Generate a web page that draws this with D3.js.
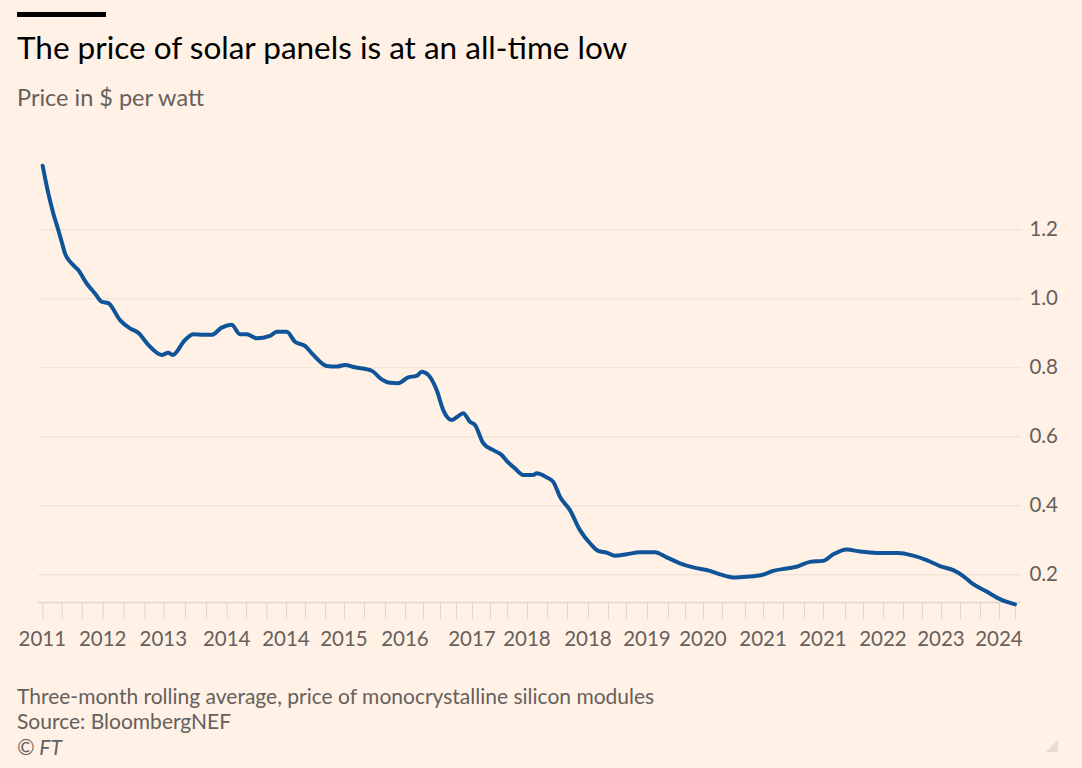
<!DOCTYPE html>
<html>
<head>
<meta charset="utf-8">
<script src="https://cdn.jsdelivr.net/npm/d3@7"></script>
<style>
  body { margin: 0; background: #fff1e5; }
  svg { display: block; font-family: Lato, "Open Sans", sans-serif; }
</style>
</head>
<body>
<svg id="chart" width="1082" height="768"></svg>
<script>
// decimal years of the data points
var years = [2011.005, 2011.082, 2011.150, 2011.218, 2011.264, 2011.309, 2011.401, 2011.490, 2011.605, 2011.718,
  2011.809, 2011.899, 2012.059, 2012.195, 2012.308, 2012.444, 2012.627, 2012.717, 2012.777, 2012.944,
  2013.057, 2013.193, 2013.308, 2013.444, 2013.580, 2013.693, 2013.785, 2013.921, 2014.102, 2014.193,
  2014.330, 2014.443, 2014.579, 2014.692, 2014.875, 2015.011, 2015.124, 2015.260, 2015.488, 2015.624,
  2015.737, 2015.850, 2015.986, 2016.101, 2016.169, 2016.259, 2016.373, 2016.463, 2016.578, 2016.646,
  2016.736, 2016.827, 2016.895, 2017.008, 2017.144, 2017.259, 2017.327, 2017.440, 2017.553, 2017.689,
  2017.736, 2017.872, 2017.962, 2018.053, 2018.189, 2018.326, 2018.462, 2018.575, 2018.689, 2018.803,
  2018.962, 2019.143, 2019.347, 2019.507, 2019.688, 2019.869, 2020.097, 2020.233, 2020.414, 2020.597,
  2020.801, 2020.959, 2021.142, 2021.278, 2021.459, 2021.640, 2021.777, 2021.959, 2022.140, 2022.368,
  2022.662, 2022.866, 2023.049, 2023.230, 2023.411, 2023.548, 2023.678, 2023.867, 2024.048, 2024.253];

// price in $ per watt
var prices = [1.384, 1.304, 1.246, 1.198, 1.164, 1.130, 1.101, 1.082, 1.043, 1.014,
  0.990, 0.986, 0.937, 0.913, 0.900, 0.865, 0.836, 0.842, 0.836, 0.879,
  0.896, 0.894, 0.894, 0.915, 0.923, 0.896, 0.896, 0.884, 0.891, 0.903,
  0.903, 0.874, 0.862, 0.836, 0.804, 0.802, 0.807, 0.800, 0.790, 0.765,
  0.755, 0.754, 0.771, 0.775, 0.787, 0.778, 0.734, 0.676, 0.647, 0.655,
  0.667, 0.642, 0.633, 0.580, 0.560, 0.546, 0.529, 0.507, 0.488, 0.488,
  0.493, 0.481, 0.468, 0.425, 0.386, 0.328, 0.290, 0.268, 0.263, 0.254,
  0.258, 0.264, 0.264, 0.249, 0.232, 0.220, 0.210, 0.200, 0.191, 0.193,
  0.198, 0.210, 0.217, 0.222, 0.236, 0.239, 0.258, 0.272, 0.266, 0.262,
  0.262, 0.254, 0.241, 0.224, 0.212, 0.195, 0.172, 0.150, 0.128, 0.113];

// x axis tick dates (irregular, as in the original) and the labelled ones
var tickYears = [2011.000, 2011.264, 2011.537, 2011.823, 2012.104, 2012.390, 2012.649, 2012.944, 2013.230, 2013.512,
  2013.775, 2014.052, 2014.320, 2014.579, 2014.851, 2015.110, 2015.383, 2015.669, 2015.941, 2016.186,
  2016.418, 2016.636, 2016.854, 2017.099, 2017.331, 2017.603, 2017.876, 2018.149, 2018.435, 2018.707,
  2018.953, 2019.239, 2019.525, 2019.757, 2020.002, 2020.261, 2020.574, 2020.820, 2021.092, 2021.378,
  2021.637, 2021.937, 2022.182, 2022.454, 2022.727, 2022.986, 2023.244, 2023.503, 2023.776, 2024.035, 2024.253];
var labelYears = [2011.000, 2011.823, 2012.649, 2013.512, 2014.320, 2015.110, 2015.941, 2016.854, 2017.603,
  2018.435, 2019.239, 2020.002, 2020.820, 2021.637, 2022.454, 2023.244, 2024.035];
var tickLabels = ["2011", "2012", "2013", "2014", "2014", "2015", "2016", "2017", "2018",
  "2018", "2019", "2020", "2021", "2021", "2022", "2023", "2024"];
var yTicks = [0.2, 0.4, 0.6, 0.8, 1.0, 1.2];

var svg = d3.select("#chart"),
    plotLeft = 42.3, plotRight = 1015, gridRight = 1021,
    plotTop = 160.3, plotBottom = 602.6;

svg.append("rect").attr("width", 1082).attr("height", 768).attr("fill", "#fff1e5");

var x = d3.scaleLinear().domain([2011, 2024.253]).range([plotLeft, plotRight]),
    y = d3.scaleLinear().domain([0.118, 1.4]).range([plotBottom, plotTop]);

// header
svg.append("rect").attr("x", 17).attr("y", 12).attr("width", 89).attr("height", 5).attr("fill", "#000");
svg.append("text").attr("x", 17).attr("y", 59)
    .style("font-size", "31.5px").attr("fill", "#000")
    .text("The price of solar panels is at an all-time low");
svg.append("text").attr("x", 17).attr("y", 106)
    .style("font-size", "23.5px").attr("fill", "#66605c")
    .text("Price in $ per watt");

// gridlines + right-hand labels
var gy = svg.append("g").attr("class", "axis axis--y")
    .attr("transform", "translate(" + gridRight + ",0)")
    .call(d3.axisRight(y).tickValues(yTicks).tickSize(-(gridRight - 38)).tickPadding(37)
      .tickFormat(d3.format(".1f")));
gy.select(".domain").remove();
gy.selectAll(".tick line").attr("stroke", "#ebdfd3").attr("stroke-width", 1);
gy.selectAll(".tick text").attr("text-anchor", "end")
    .style("font-size", "20.5px").style("font-family", "Lato, sans-serif").attr("fill", "#66605c");

// x axis: baseline, ticks, labels
svg.append("line").attr("x1", 38).attr("x2", gridRight).attr("y1", plotBottom).attr("y2", plotBottom)
    .attr("stroke", "#e2d5ca").attr("stroke-width", 1.5);
var gx = svg.append("g").attr("class", "axis axis--x")
    .attr("transform", "translate(0," + plotBottom + ")")
    .call(d3.axisBottom(x).tickValues(tickYears).tickSize(16).tickFormat(""));
gx.select(".domain").remove();
gx.selectAll(".tick line").attr("stroke", "#e2d5ca");

svg.append("g").selectAll("text")
    .data(labelYears)
    .join("text")
    .attr("x", function(d) { return x(d); })
    .attr("y", 646)
    .attr("text-anchor", "middle")
    .style("font-size", "20.5px").attr("fill", "#66605c")
    .text(function(d, i) { return tickLabels[i]; });

// the line
var line = d3.line()
    .x(function(d) { return x(d[0]); })
    .y(function(d) { return y(d[1]); })
    .curve(d3.curveMonotoneX);

svg.append("path")
    .datum(d3.zip(years, prices))
    .attr("fill", "none")
    .attr("stroke", "#0f5499")
    .attr("stroke-width", 4)
    .attr("stroke-linejoin", "round")
    .attr("stroke-linecap", "round")
    .attr("d", line);

// footer
var notes = ["Three-month rolling average, price of monocrystalline silicon modules", "Source: BloombergNEF"];
svg.append("g").selectAll("text")
    .data(notes)
    .join("text")
    .attr("x", 17)
    .attr("y", function(d, i) { return 704 + i * 25; })
    .style("font-size", "21px").attr("fill", "#66605c")
    .text(function(d) { return d; });
svg.append("text").attr("x", 17).attr("y", 755)
    .style("font-size", "21px").style("font-style", "italic").attr("fill", "#66605c")
    .text("\u00a9 FT");

// resize grip
svg.append("path").attr("d", "M1058,740 L1058,752 L1046,752 Z").attr("fill", "#e6dcd3");
</script>
</body>
</html>
